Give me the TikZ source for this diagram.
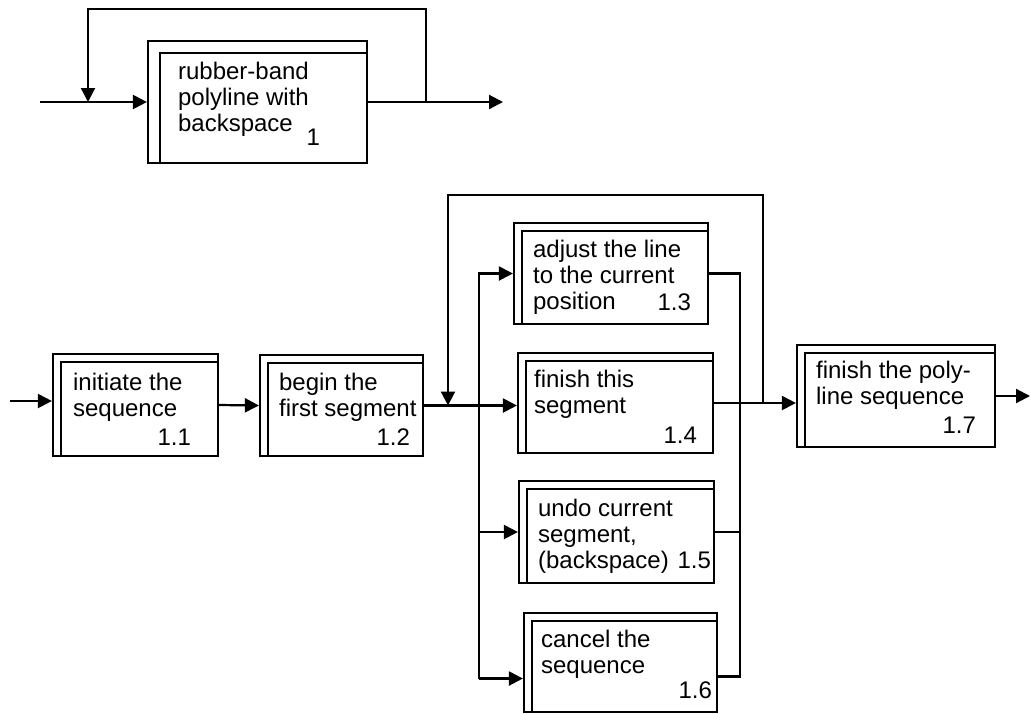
\documentclass[tikz,border=0pt]{standalone}
\usepackage{fontspec}
\setmainfont{Liberation Sans}
\usetikzlibrary{arrows.meta,fit}

\begin{document}
\begin{tikzpicture}[x=0.5pt, y=-0.5pt, line width=1.1pt, >={Triangle[length=7pt,width=7pt]},
    pbox/.style={draw, inner sep=0pt,
        path picture={\draw ([xshift=#1]path picture bounding box.south west)
            |- ([yshift=-#1]path picture bounding box.north east);}},
    pbox/.default=4pt,
    txt/.style={font=\fontsize{12}{13}\selectfont, inner sep=0pt, align=left, anchor=base west},
    num/.style={font=\fontsize{12}{13}\selectfont, inner sep=0pt, anchor=base east}]
    \useasboundingbox (0,0) rectangle (1031,713);

    % boxes
    \node[pbox=6pt, fit={(148,41) (367,163)}] (b1) {};
    \foreach \n/\xa/\ya/\xb/\yb in {b11/53/354/218/456, b12/260/355/423/456,
        b13/514/223/708/324, b14/518/353/713/453, b15/519/481/714/583,
        b16/524/613/717/712, b17/797/345/995/447}
        \node[pbox, fit={(\xa,\ya) (\xb,\yb)}] (\n) {};

    % texts (placed at the baseline of their last line)
    \node[txt] (t1) at (177,131) {rubber-band\\polyline with\\backspace};
    \node[num] (n1) at (321,145) {1};
    \node[txt] (t11) at (72,416) {initiate the\\sequence};
    \node[num] (n11) at (192,445) {1.1};
    \node[txt] (t12) at (278,416) {begin the\\first segment};
    \node[num] (n12) at (411,445) {1.2};
    \node[txt] (t13) at (532,309) {adjust the line\\to the current\\position};
    \node[num] (n13) at (692,310) {1.3};
    \node[txt] (t14) at (533,413) {finish this\\segment};
    \node[num] (n14) at (698,443) {1.4};
    \node[txt] (t15) at (537,568) {undo current\\segment,\\(backspace)};
    \node[num] (n15) at (712,568) {1.5};
    \node[txt] (t16) at (540,673) {cancel the\\sequence};
    \node[num] (n16) at (713,698) {1.6};
    \node[txt] (t17) at (815,404) {finish the poly-\\line sequence};
    \node[num] (n17) at (977,433) {1.7};

    % top diagram
    \coordinate (in1) at (40,102);
    \coordinate (out1) at (503,102);
    \coordinate (loop1a) at (426,9);
    \coordinate (loop1b) at (88,9);
    \draw[->] (in1) -- (b1.west);
    \draw[->] (b1.east) -- (out1);
    \draw[->] (loop1a |- b1.east) -- (loop1a) -- (loop1b) -- (loop1b |- in1);

    % main sequence
    \coordinate (in11) at (10,401);
    \coordinate (out17) at (1030,396);
    \coordinate (fork) at (479,0);
    \coordinate (join) at (740,0);
    \coordinate (b16in) at ([yshift=-8pt]b16.west);
    \coordinate (b16out) at ([yshift=-7pt]b16.east);
    \draw[->] (in11) -- (in11 -| b11.west);
    \draw[->] (b11.east) -- (b12.west);
    \draw[->] (b12.east) -- (b12.east -| b14.west);
    \draw[->] (b16in -| fork) -- (fork |- b13.west) -- (b13.west);
    \draw[->] (b16in -| fork) -- (b16in);
    \draw[->] (fork |- b15.west) -- (b15.west);
    \draw (b13.east) -- (b13.east -| join) -- (b16out -| join) -- (b16out);
    \draw (b15.east) -- (b15.east -| join);
    \draw[->] (b14.east) -- (b14.east -| b17.west);
    \draw[->] (b17.east) -- (b17.east -| out17);

    % loop back
    \coordinate (loop2a) at (763,195);
    \coordinate (loop2b) at (448,195);
    \draw[->] (loop2a |- b14.east) -- (loop2a) -- (loop2b) -- (loop2b |- b12.east);
\end{tikzpicture}
\end{document}
